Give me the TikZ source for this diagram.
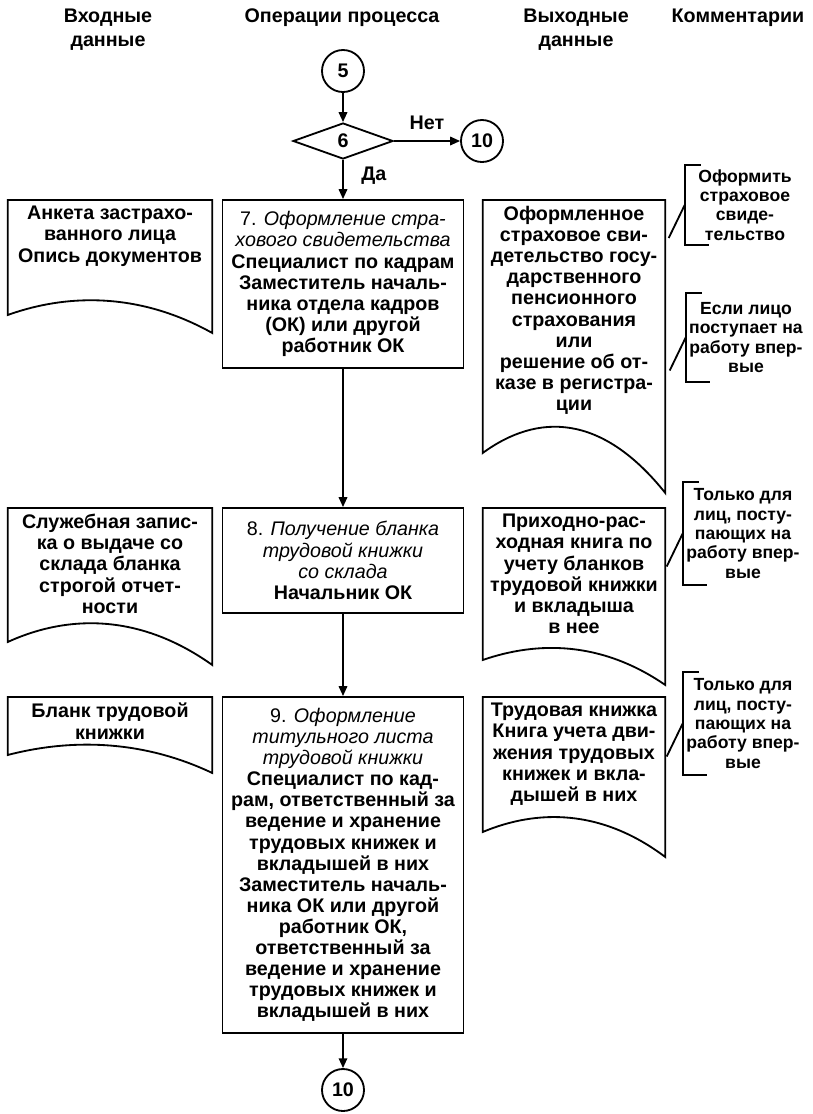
\documentclass[tikz,border=0pt]{standalone}
\usepackage{fontspec}
\setmainfont{Liberation Sans}
\usetikzlibrary{arrows.meta,positioning,shapes.geometric,calc}

% document outline: node, body height, drop of the right corner, bulge
\newcommand{\docframe}[4]{%
  \draw[outline] (#1.north west) -- (#1.north east) -- ($(#1.north east)+(0,#2+#3)$)
    .. controls ($(#1.north west)!0.65!(#1.north east)+(0,#2-#4)$) and ($(#1.north west)!0.3!(#1.north east)+(0,#2-#4)$)
    .. ($(#1.north west)+(0,#2)$) -- cycle;}

\begin{document}
\begin{tikzpicture}[x=0.025cm, y=-0.025cm,
  font=\fontsize{14}{15}\selectfont\bfseries,
  outline/.style={line width=1.3pt},
  head/.style={align=center, font=\fontsize{14}{17}\selectfont\bfseries},
  proc/.style={draw, outline, align=center, minimum width=6.025cm, inner sep=0pt},
  conn/.style={circle, draw, outline, minimum size=1.05cm, inner sep=0pt},
  dec/.style={diamond, draw, outline, minimum width=2.5cm, minimum height=0.9cm, inner sep=0pt},
  doc/.style={anchor=north, align=center, inner xsep=0pt, inner ysep=0.15cm},
  inbox/.style={doc, minimum width=5.1cm},
  outbox/.style={doc, minimum width=4.55cm},
  note/.style={align=center, minimum width=3cm, inner sep=0pt, font=\fontsize{12.5}{13.8}\selectfont\bfseries},
  arr/.style={outline, -{Triangle[length=7pt,width=6pt]}}]
  \useasboundingbox (0,0) rectangle (812,1114);
  % column heads
  \node[head] (hin) at (108,30) {Входные\\данные};
  \node[head] (hop) at (342,18) {Операции процесса};
  \node[head] (hout) at (576,30) {Выходные\\данные};
  \node[head] (hcom) at (738,18) {Комментарии};
  % process column
  \node[conn] (s5) at (343,71) {5};
  \node[dec] (d6) at (343,141) {6};
  \node[conn] (s10a) at (482,141) {10};
  \node[proc, minimum height=4.2cm] (p7) at (343,284)
    {\textmd{7. \textit{Оформление стра-}}\\\textmd{\textit{хового свидетельства}}\\Специалист по кадрам\\Заместитель началь-\\ника отдела кадров\\(ОК) или другой\\работник ОК};
  \node[proc, minimum height=2.625cm] (p8) at (343,560.5)
    {\textmd{8. \textit{Получение бланка}}\\\textmd{\textit{трудовой книжки}}\\\textmd{\textit{со склада}}\\Начальник ОК};
  \node[proc, minimum height=8.4cm] (p9) at (343,865)
    {\textmd{9. \textit{Оформление}}\\\textmd{\textit{титульного листа}}\\\textmd{\textit{трудовой книжки}}\\Специалист по кад-\\рам, ответственный за\\ведение и хранение\\трудовых книжек и\\вкладышей в них\\Заместитель началь-\\ника ОК или другой\\работник ОК,\\ответственный за\\ведение и хранение\\трудовых книжек и\\вкладышей в них};
  \node[conn] (s10b) at (343,1090) {10};
  \draw[arr] (s5) -- (d6);
  \draw[arr] (d6.east) -- node[above=4pt] {Нет} (s10a);
  \draw[arr] (d6.south) -- node[right=9pt, pos=0.4] {Да} (p7.north);
  \draw[arr] (p7) -- (p8);
  \draw[arr] (p8) -- (p9);
  \draw[arr] (p9) -- (s10b);
  % input documents
  \node[inbox] (in1) at (110,200) {Анкета застрахо-\\ванного лица\\Опись документов};
  \node[inbox] (in2) at (110,508) {Служебная запис-\\ка о выдаче со\\склада бланка\\строгой отчет-\\ности};
  \node[inbox] (in3) at (110,697) {Бланк трудовой\\книжки};
  \docframe{in1}{115}{18}{22}
  \docframe{in2}{134}{23}{28}
  \docframe{in3}{58}{18}{16}
  % output documents
  \node[outbox] (out1) at (574,200) {Оформленное\\страховое сви-\\детельство госу-\\дарственного\\пенсионного\\страхования\\или\\решение об от-\\казе в регистра-\\ции};
  \node[outbox] (out2) at (574,508) {Приходно-рас-\\ходная книга по\\учету бланков\\трудовой книжки\\и вкладыша\\в нее};
  \node[outbox] (out3) at (574,697) {Трудовая книжка\\Книга учета дви-\\жения трудовых\\книжек и вкла-\\дышей в них};
  \docframe{out1}{253}{40}{40}
  \docframe{out2}{152}{25}{19}
  \docframe{out3}{135}{25}{23}
  % comments
  \node[note, minimum height=2cm] (c1) at (745,205) {Оформить\\страховое\\свиде-\\тельство};
  \node[note, minimum height=2.225cm] (c2) at (746,337.5) {Если лицо\\поступает на\\работу впер-\\вые};
  \node[note, minimum height=2.575cm] (c3) at (743,533.5) {Только для\\лиц, посту-\\пающих на\\работу впер-\\вые};
  \node[note, minimum height=2.575cm] (c4) at (743,723.5) {Только для\\лиц, посту-\\пающих на\\работу впер-\\вые};
  \foreach \c in {c1,c2,c3,c4} {
    \draw[outline] ($(\c.north west)+(16,0)$) -- (\c.north west) -- (\c.south west) -- ++(24,0);
    \draw[outline] (\c.west) -- ++(-16,33);
  }
\end{tikzpicture}
\end{document}
